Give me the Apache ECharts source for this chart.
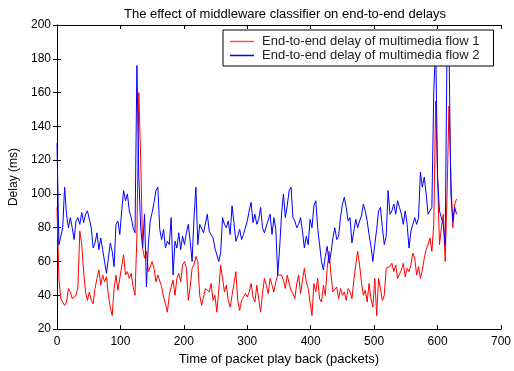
<!DOCTYPE html>
<html>
<head>
<meta charset="utf-8">
<script src="https://cdn.jsdelivr.net/npm/echarts@6/dist/echarts.min.js"></script>
<style>
html,body{margin:0;padding:0;background:#fff;}
#chart{width:514px;height:371px;}
</style>
</head>
<body>
<div id="chart"></div>
<script>
// Sampled every 3 packets, from packet 0 to packet 630
const packetStep = 3;
const flow1Delay = [
  92,50,38,36,34,36,44,42,38,37,40,45,78,70,54,42,37,42,37,35,44,50,55,46,52,48,51,40,33,28,44,52,43,44,
  57,64,52,54,50,53,45,40,75,160,120,68,62,66,54,55,60,56,48,52,53,45,39,35,30,40,45,49,40,50,53,48,58,
  60,56,37,45,56,58,63,60,40,34,33,44,45,42,47,37,40,30,43,58,50,42,46,37,33,40,47,54,37,31,37,36,41,
  39,42,47,39,36,46,38,30,41,50,46,41,50,46,42,48,52,52,52,49,44,52,47,43,41,38,47,52,41,49,56,48,44,36,28,
  47,42,50,38,36,46,40,56,66,52,42,41,45,38,44,40,42,37,44,42,38,49,58,66,58,48,40,43,36,47,38,33,50,28,
  50,44,37,40,56,55,57,59,54,58,50,50,55,59,51,56,54,58,65,62,52,57,50,55,62,67,70,74,66,82,155,110,70,80,88,60,100,152,110,80,94,97
];
const flow2Delay = [
  130,70,75,80,104,88,80,86,80,73,84,86,82,89,83,88,90,91,80,68,71,77,67,74,67,60,53,62,71,66,57,82,84,76,
  90,102,96,100,90,86,80,77,176,110,80,68,88,45,70,84,89,95,102,104,79,73,79,68,72,70,86,52,72,68,77,67,75,
  70,77,82,72,60,86,104,70,82,82,77,78,88,78,76,74,68,69,60,65,86,82,80,84,76,93,83,72,75,79,73,76,75,
  84,90,95,83,88,82,85,92,80,77,81,82,88,76,86,79,52,68,88,100,86,93,102,104,86,84,80,82,86,78,68,75,70,85,80,
  93,96,80,70,60,55,63,69,59,65,74,80,73,75,86,94,98,92,84,86,71,78,85,80,84,87,94,90,84,76,69,60,70,79,
  90,92,80,70,75,102,88,90,94,88,96,92,88,82,90,82,68,78,82,86,82,86,113,104,110,100,88,90,92,160,190,110,90,86,82,70,190,188,100,84,92,88
];
const xTicks = {min: 0, max: 700, interval: 100};
const yTicks = {min: 20, max: 200, interval: 20};
const seriesNames = ['End-to-end delay of multimedia flow 1', 'End-to-end delay of multimedia flow 2'];
const titleText = 'The effect of middleware classifier on end-to-end delays';
const xName = 'Time of packet play back (packets)';
const yName = 'Delay (ms)';

const toPairs = arr => arr.map((v, i) => [i * packetStep, v]);
const FONT = 'Liberation Sans, Arial, Helvetica, sans-serif';
// thin horizontal line icon (tiny corner dots keep the bounding box 24x12)
const LINE_ICON = 'path://M0,0h0.02v0.02h-0.02z M0,5.3h24v1.4h-24z M23.98,11.98h0.02v0.02h-0.02z';

const axisCommon = {
  axisLine: {show: true, lineStyle: {color: '#000', width: 1}},
  axisTick: {show: true, inside: true, length: 4, lineStyle: {color: '#000'}},
  splitLine: {show: false}
};

const chart = echarts.init(document.getElementById('chart'), null, {renderer: 'canvas'});
chart.setOption({
  animation: false,
  backgroundColor: '#fff',
  title: {
    text: titleText,
    left: 280,
    textAlign: 'center',
    top: 3,
    textStyle: {fontFamily: FONT, fontSize: 13, fontWeight: 'normal', color: '#000'}
  },
  grid: {left: 56, right: 11, top: 25, bottom: 37, containLabel: false},
  legend: {
    orient: 'vertical',
    left: 223,
    top: 30,
    padding: [5, 14, 4, 7],
    itemWidth: 24,
    itemHeight: 12,
    itemGap: 1,
    backgroundColor: '#fff',
    borderColor: '#000',
    borderWidth: 1,
    borderRadius: 0,
    itemStyle: {borderWidth: 0},
    textStyle: {fontFamily: FONT, fontSize: 13, color: '#222', padding: [0, 0, 0, 3]},
    data: [
      {name: seriesNames[0], icon: LINE_ICON, itemStyle: {color: '#ff5050', borderWidth: 0}},
      {name: seriesNames[1], icon: LINE_ICON, itemStyle: {color: '#0000ff', borderWidth: 0}}
    ]
  },
  xAxis: [
    Object.assign({
      type: 'value', position: 'bottom', min: xTicks.min, max: xTicks.max, interval: xTicks.interval,
      name: xName, nameLocation: 'middle', nameGap: 22,
      nameTextStyle: {fontFamily: FONT, fontSize: 13, color: '#000'},
      axisLabel: {fontFamily: FONT, fontSize: 12, color: '#000', margin: 7}
    }, axisCommon),
    Object.assign({
      type: 'value', position: 'top', min: xTicks.min, max: xTicks.max, interval: xTicks.interval,
      axisLabel: {show: false}
    }, axisCommon)
  ],
  yAxis: [
    Object.assign({
      type: 'value', position: 'left', min: yTicks.min, max: yTicks.max, interval: yTicks.interval,
      name: yName, nameLocation: 'middle', nameGap: 37,
      nameTextStyle: {fontFamily: FONT, fontSize: 12, color: '#000'},
      axisLabel: {fontFamily: FONT, fontSize: 12, color: '#000', margin: 6}
    }, axisCommon),
    Object.assign({
      type: 'value', position: 'right', min: yTicks.min, max: yTicks.max, interval: yTicks.interval,
      axisLabel: {show: false}
    }, axisCommon)
  ],
  series: [
    {
      name: seriesNames[0], type: 'line', xAxisIndex: 0, yAxisIndex: 0,
      data: toPairs(flow1Delay), symbol: 'none', showSymbol: false,
      lineStyle: {color: '#ff0000', width: 1}, itemStyle: {color: '#ff0000'}, z: 2
    },
    {
      name: seriesNames[1], type: 'line', xAxisIndex: 0, yAxisIndex: 0,
      data: toPairs(flow2Delay), symbol: 'none', showSymbol: false,
      lineStyle: {color: '#0000ff', width: 1}, itemStyle: {color: '#0000ff'}, z: 3
    }
  ]
});
</script>
</body>
</html>
